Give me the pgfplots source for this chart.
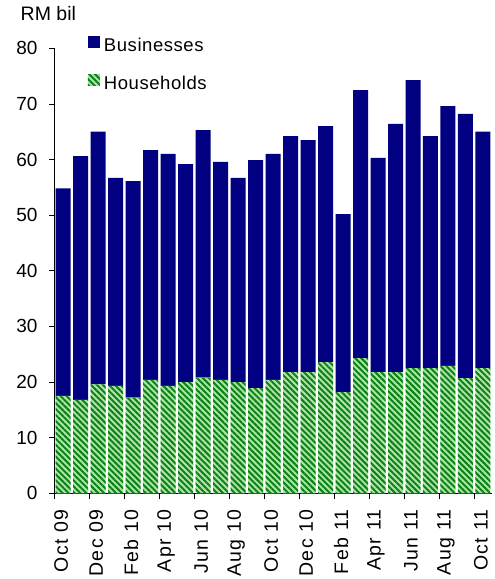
\documentclass[border=0pt]{standalone}
\usepackage{fontspec}
\setmainfont{Liberation Sans}
\newfontfamily\lsfont{Liberation Sans}[LetterSpace=7]
\newfontfamily\lgfont{Liberation Sans}[LetterSpace=3]
\usepackage{pgfplots}
\usepackage{pgfplotstable}
\pgfplotsset{compat=1.18}
\usetikzlibrary{patterns.meta}
\definecolor{bus}{RGB}{0,0,128}
\definecolor{hhdark}{RGB}{10,130,20}
\definecolor{hhlight}{RGB}{175,228,170}
\pgfplotstableread{
x H B
0 17.5 37.3
1 16.8 43.8
2 19.6 45.4
3 19.3 37.4
4 17.2 38.9
5 20.4 41.3
6 19.3 41.7
7 20.0 39.2
8 20.8 44.5
9 20.4 39.2
10 20.0 36.7
11 18.9 41.0
12 20.4 40.6
13 21.8 42.4
14 21.8 41.7
15 23.6 42.4
16 18.2 32.0
17 24.3 48.2
18 21.8 38.5
19 21.8 44.6
20 22.5 51.8
21 22.5 41.7
22 22.9 46.7
23 20.7 47.5
24 22.5 42.5
}\datatable
\begin{document}
\fontsize{19}{23}\selectfont
\begin{tikzpicture}
\useasboundingbox (0,0) rectangle (495pt,579pt);
\begin{axis}[
  at={(54.5pt,85.7pt)}, anchor=south west,
  width=437.2pt, height=445pt, scale only axis,
  xmin=-0.5, xmax=24.5, ymin=0, ymax=80,
  ybar stacked, bar width=15pt,
  axis x line*=bottom, axis y line*=left,
  axis line style={line width=0.8pt},
  ytick={0,10,...,80},
  xtick={0,2,...,24},
  xticklabels={Oct 09,Dec 09,Feb 10,Apr 10,Jun 10,Aug 10,Oct 10,Dec 10,Feb 11,Apr 11,Jun 11,Aug 11,Oct 11},
  minor xtick={-0.5,1.5,...,23.5},
  tick align=outside,
  major tick length=5.5pt, minor tick length=6pt,
  major x tick style={draw=none},
  minor x tick style={draw=black, line width=0.8pt},
  major y tick style={draw=black, line width=0.8pt},
  /pgf/number format/assume math mode=true,
  yticklabel style={font=\fontsize{19}{23}\selectfont, xshift=-5pt},
  xticklabel style={font=\lsfont\fontsize{19.5}{23}\selectfont, xshift=-2pt, yshift=-4pt, rotate=90, anchor=east},
  legend image code/.code={\fill[#1] (0pt,-1.5pt) rectangle (12pt,10pt);},
  reverse legend,
  legend cell align=left,
  legend style={draw=none, fill=none, inner sep=0pt, outer sep=0pt,
    at={(0.0766,1.0276)}, anchor=north west,
    row sep=20pt, column sep=4pt,
    nodes={inner sep=0pt},
    font=\lgfont\fontsize{18.5}{22}\selectfont},
]
\addplot[draw=none, fill=hhlight,
  postaction={pattern={Lines[angle=-45,distance=4.2pt,line width=2pt]}, pattern color=hhdark}]
  table[x=x, y=H] {\datatable};
\addlegendentry{Households}
\addplot[draw=none, fill=bus] table[x=x, y=B] {\datatable};
\addlegendentry{Businesses}
\end{axis}
\node[anchor=base west, inner sep=0pt, font=\fontsize{19.5}{23}\selectfont] at (20.5pt,558.3pt) {RM bil};
\end{tikzpicture}
\end{document}
